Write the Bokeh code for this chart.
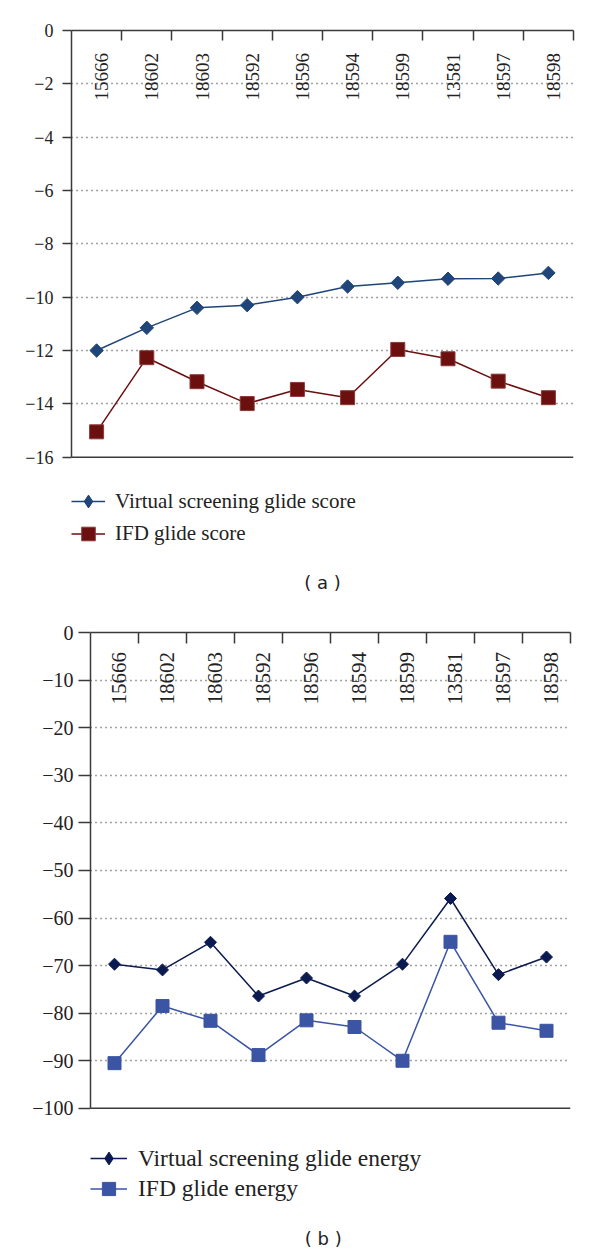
import math
import numpy as np
from bokeh.plotting import figure
from bokeh.models import (Range1d, LinearAxis, FixedTicker, Legend, LegendItem,
                          Label, Grid, Span)
from bokeh.embed import file_html
from bokeh.resources import INLINE

# ---------------- data ----------------
categories = ["15666", "18602", "18603", "18592", "18596",
              "18594", "18599", "13581", "18597", "18598"]

vs_score = [-12.0, -11.15, -10.4, -10.3, -10.0, -9.6, -9.46, -9.31, -9.3, -9.09]
ifd_score = [-15.05, -12.27, -13.17, -13.99, -13.46, -13.77, -11.96, -12.31, -13.15, -13.77]

vs_energy = [-69.7, -70.9, -65.1, -76.4, -72.6, -76.4, -69.7, -55.9, -71.9, -68.2]
ifd_energy = [-90.5, -78.5, -81.6, -88.8, -81.5, -82.9, -90.0, -65.0, -82.0, -83.7]

score_ticks = [0, -2, -4, -6, -8, -10, -12, -14, -16]
energy_ticks = [0, -10, -20, -30, -40, -50, -60, -70, -80, -90, -100]

series_a_labels = ["Virtual screening glide score", "IFD glide score"]
series_b_labels = ["Virtual screening glide energy", "IFD glide energy"]

# ---------------- style ----------------
SERIF = "Liberation Serif"
SANS = "DejaVu Sans"
AXIS_COLOR = "#3a3a3a"
TOP_BLUE = "#1F4579"
TOP_RED = "#6B0F0F"
BOT_NAVY = "#0B1A50"
BOT_BLUE = "#3B54A4"

n = len(categories)
xs = np.arange(n) + 0.5
label_pos = [float(x) + 0.1 for x in xs]
NO_POINT = [np.nan]  # legend-only symbol, never drawn in the plot area


def minus(v):
    return str(v).replace("-", "\u2212")


def base_panel(width, height, borders, y_ticks, y_start, cat_font_size,
               cat_standoff, tick_font_size, tick_out, tick_standoff,
               cat_tick_len):
    left, right, top, bottom = borders
    p = figure(width=width, height=height,
               x_range=Range1d(0, n), y_range=Range1d(y_start, y_ticks[0]),
               x_axis_type=None, y_axis_type=None,
               output_backend="svg", toolbar_location=None)
    p.min_border_left = left
    p.min_border_right = right
    p.min_border_top = top
    p.min_border_bottom = bottom
    p.outline_line_color = None
    p.background_fill_color = "white"
    p.border_fill_color = "white"

    yaxis = LinearAxis(
        ticker=FixedTicker(ticks=y_ticks),
        bounds=(y_ticks[-1], y_ticks[0]),
        major_label_overrides={t: minus(t) for t in y_ticks},
        major_tick_in=0, major_tick_out=tick_out,
        minor_tick_in=0, minor_tick_out=0,
        major_label_standoff=tick_standoff,
        major_label_text_font=SERIF,
        major_label_text_font_size=tick_font_size,
        major_label_text_color="#222222",
        axis_line_color=AXIS_COLOR, axis_line_width=1.5,
        major_tick_line_color=AXIS_COLOR, major_tick_line_width=1.5,
    )
    p.add_layout(yaxis, "left")

    grid = Grid(dimension=1, ticker=FixedTicker(ticks=y_ticks[1:-1]),
                grid_line_color="#444444", grid_line_dash="1 4",
                grid_line_width=1.3)
    p.add_layout(grid)

    base = Span(location=y_ticks[-1], dimension="width",
                line_color=AXIS_COLOR, line_width=1.5)
    p.add_layout(base)

    top_axis = LinearAxis(
        ticker=FixedTicker(ticks=label_pos, minor_ticks=list(range(1, n + 1))),
        major_label_overrides={x: c for x, c in zip(label_pos, categories)},
        major_tick_in=0, major_tick_out=0,
        minor_tick_in=cat_tick_len, minor_tick_out=0,
        major_label_orientation=math.pi / 2,
        major_label_standoff=cat_standoff,
        major_label_text_font=SERIF,
        major_label_text_font_size=cat_font_size,
        major_label_text_color="#222222",
        axis_line_color=AXIS_COLOR, axis_line_width=1.5,
        minor_tick_line_color=AXIS_COLOR, minor_tick_line_width=1.5,
    )
    p.add_layout(top_axis, "above")
    return p


def add_legend(p, label, renderers, loc, glyph_w, glyph_h, standoff, font_size):
    leg = Legend(items=[LegendItem(label=label, renderers=renderers)],
                 location=loc, glyph_width=glyph_w, glyph_height=glyph_h,
                 label_height=glyph_h, label_standoff=standoff,
                 padding=0, margin=0, spacing=0,
                 border_line_color=None, background_fill_alpha=0,
                 label_text_font=SERIF, label_text_font_size=font_size,
                 label_text_color="#222222", label_text_baseline="middle")
    p.add_layout(leg)


# ---------------- panel (a) ----------------
p1 = base_panel(600, 608, (71, 27, 30, 2), score_ticks, -21.6, "19px", -70,
                "18px", 9, 9, 10)

l1 = p1.line(xs, vs_score, line_color=TOP_BLUE, line_width=1.5)
s1 = p1.scatter(xs, vs_score, marker="square", angle=math.pi / 4, size=9.5,
                fill_color=TOP_BLUE, line_color=TOP_BLUE)
l2 = p1.line(xs, ifd_score, line_color=TOP_RED, line_width=1.5)
s2 = p1.scatter(xs, ifd_score, marker="square", size=14,
                fill_color=TOP_RED, line_color="#8a3a3a")
d1 = p1.scatter(NO_POINT, NO_POINT, marker="diamond",
                fill_color=TOP_BLUE, line_color=TOP_BLUE)

add_legend(p1, series_a_labels[0], [l1, d1], (0, 89), 34, 32, 10, "21px")
add_legend(p1, series_a_labels[1], [l2, s2], (0, 55), 34, 35, 10, "21px")

p1.add_layout(Label(x=n / 2, y=-20.7, text="( a )", text_align="center",
                    text_baseline="middle", text_font=SANS,
                    text_font_size="18px", text_color="#222222"))

# ---------------- panel (b) ----------------
p2 = base_panel(600, 647, (90, 30, 24, 2), energy_ticks, -130.5, "21px", -72,
                "20px", 12, 5, 11)

l3 = p2.line(xs, vs_energy, line_color=BOT_NAVY, line_width=1.5)
s3 = p2.scatter(xs, vs_energy, marker="square", angle=math.pi / 4, size=8.5,
                fill_color=BOT_NAVY, line_color=BOT_NAVY)
l4 = p2.line(xs, ifd_energy, line_color=BOT_BLUE, line_width=1.5)
s4 = p2.scatter(xs, ifd_energy, marker="square", size=13,
                fill_color=BOT_BLUE, line_color=BOT_BLUE)
d3 = p2.scatter(NO_POINT, NO_POINT, marker="diamond",
                fill_color=BOT_NAVY, line_color=BOT_NAVY)

add_legend(p2, series_b_labels[0], [l3, d3], (0, 79), 37, 32, 11, "23.5px")
add_legend(p2, series_b_labels[1], [l4, s4], (0, 48), 37, 33, 11, "23.5px")

p2.add_layout(Label(x=4.85, y=-127.3, text="( b )", text_align="center",
                    text_baseline="middle", text_font=SANS,
                    text_font_size="18px", text_color="#222222"))

open("out.html", "w").write(file_html([p1, p2], INLINE))
